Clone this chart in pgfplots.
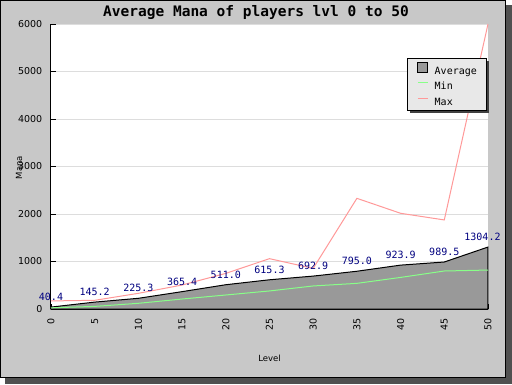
\documentclass[border=0pt]{standalone}
\usepackage{fontspec}
\usepackage{pgfplots}
\pgfplotsset{compat=1.18}
\setmainfont{DejaVu Sans}
\newfontfamily\monofont{DejaVu Sans Mono}
\definecolor{bgc}{HTML}{C8C8C8}
\definecolor{shc}{HTML}{505050}
\definecolor{avgc}{HTML}{999999}
\definecolor{minc}{HTML}{88FF88}
\definecolor{maxc}{HTML}{FF9999}
\definecolor{labc}{HTML}{000080}
\definecolor{gridc}{HTML}{DDDDDD}
\definecolor{legc}{HTML}{E8E8E8}
\pgfplotsset{
  sqlegend/.style={legend image code/.code={\draw[##1, line width=0.8pt] (0pt,-1.4pt) rectangle (10pt,8.6pt);}},
  lnlegend/.style={legend image code/.code={\path[draw=none,fill=none] (0pt,-1.4pt) rectangle (10pt,8.6pt); \draw[##1, line width=1.3pt] (0pt,3.6pt) -- (10pt,3.6pt);}},
}
\begin{document}
\begin{tikzpicture}[x=1pt,y=1pt]
\useasboundingbox (-51,-75) rectangle (461,309);
\fill[shc] (-46,-75) rectangle (461,304);
\filldraw[fill=bgc, draw=black, line width=1pt] (-50.5,-68.5) rectangle (454.5,308.5);
\begin{axis}[
  at={(0,0)}, anchor=south west,
  scale only axis, width=437pt, height=285pt,
  clip=false,
  axis background/.style={fill=white},
  axis x line=bottom, axis y line=left,
  axis line style={-, line width=1pt, black},
  xmin=0, xmax=50, ymin=0, ymax=6000,
  xtick={0,5,...,50}, ytick={0,1000,...,6000},
  tick align=inside, major tick length=5pt,
  tick style={black, line width=0.8pt},
  ymajorgrids, grid style={gridc, line width=0.8pt},
  /pgf/number format/assume math mode=true,
  /pgf/number format/1000 sep={},
  ticklabel style={font=\fontsize{9.5}{11}\selectfont},
  xticklabel style={rotate=90, anchor=east, inner sep=0pt},
  xticklabel shift=9pt,
  yticklabel style={anchor=east, inner sep=0pt},
  yticklabel shift=8.5pt,
  xlabel={Level}, ylabel={Mana},
  label style={font=\fontsize{8.5}{10}\selectfont},
  xlabel style={at={(axis description cs:0.5,-0.172)}, anchor=center},
  ylabel style={at={(axis description cs:-0.0732,0.4965)}, anchor=center},
  legend style={at={(0.814,0.8796)}, anchor=north west, fill=legc, draw=black,
    line width=0.8pt,
    font=\monofont\fontsize{10}{12}\selectfont,
    inner xsep=10pt, inner ysep=3pt, row sep=2pt, column sep=6.3pt,
    nodes={inner xsep=0pt, inner ysep=0pt, text height=8.6pt, text depth=1.4pt}},
  legend cell align=left,
]
\addplot[fill=avgc, draw=black, line width=1pt, sqlegend]
  coordinates {(0,40.4)(5,145.2)(10,225.3)(15,365.4)(20,511.0)(25,615.3)(30,692.9)(35,795.0)(40,923.9)(45,989.5)(50,1304.2)} \closedcycle;
\addlegendentry{Average}
\addplot[minc, line width=1pt, mark=none, lnlegend]
  coordinates {(0,25)(5,55)(10,120)(15,210)(20,295)(25,380)(30,485)(35,540)(40,665)(45,800)(50,820)};
\addlegendentry{Min}
\addplot[maxc, line width=1pt, mark=none, lnlegend]
  coordinates {(0,170)(5,183)(10,330)(15,505)(20,750)(25,1060)(30,855)(35,2330)(40,2015)(45,1875)(50,6000)};
\addlegendentry{Max}
\addplot[draw=none, mark=none, forget plot, point meta=y,
  nodes near coords={\pgfmathprintnumber[fixed,fixed zerofill,precision=1,1000 sep={}]{\pgfplotspointmeta}},
  nodes near coords style={font=\monofont\fontsize{10}{12}\selectfont, text=labc, anchor=south, inner sep=0pt, yshift=6pt}]
  coordinates {(0,40.4)(5,145.2)(10,225.3)(15,365.4)(20,511.0)(25,615.3)(30,692.9)(35,795.0)(40,923.9)(45,989.5)};
\addplot[draw=none, mark=none, forget plot, point meta=y,
  nodes near coords={\pgfmathprintnumber[fixed,fixed zerofill,precision=1,1000 sep={}]{\pgfplotspointmeta}},
  nodes near coords style={font=\monofont\fontsize{10}{12}\selectfont, text=labc, anchor=south, inner sep=0pt, yshift=6.5pt, xshift=-5.5pt}]
  coordinates {(50,1304.2)};
\fill[black!75] (rel axis cs:0.8208,0.8691) rectangle (rel axis cs:1.0016,0.686);
\end{axis}
\node[font=\monofont\bfseries\fontsize{14.5}{16}\selectfont, anchor=center] at (205,297) {Average Mana of players lvl 0 to 50};
\end{tikzpicture}
\end{document}
